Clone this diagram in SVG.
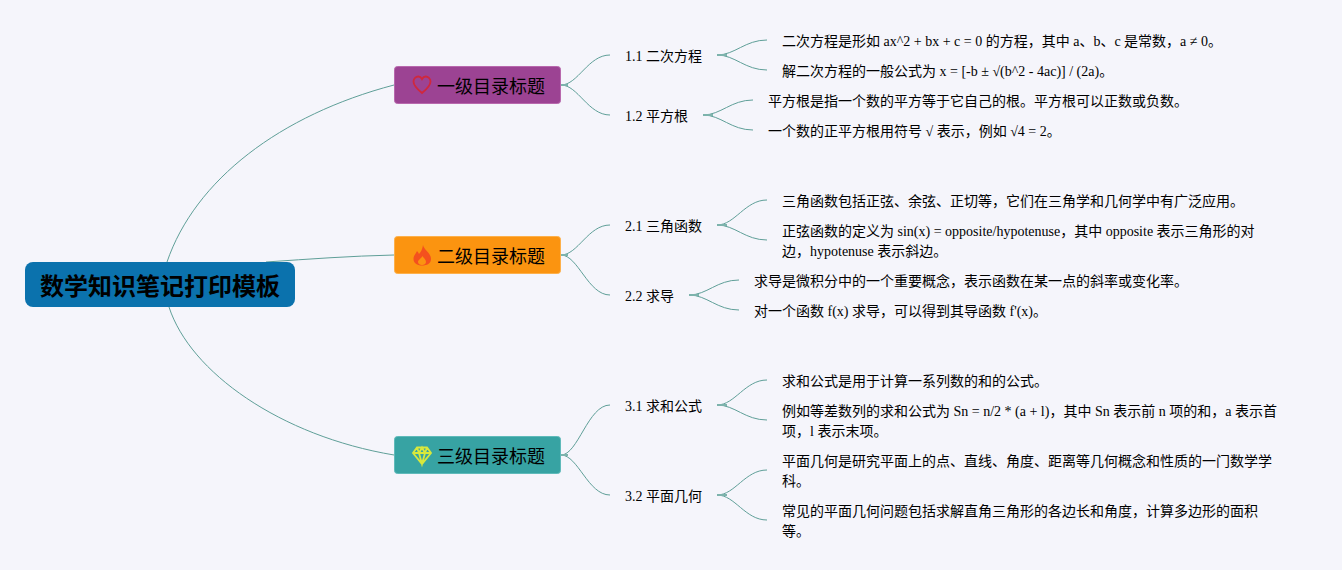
<svg xmlns="http://www.w3.org/2000/svg" width="1342" height="570" viewBox="0 0 1342 570">
<style>
text{font-family:"Liberation Serif","Noto Sans CJK SC",serif;fill:#000}
.t{font-size:14px}
.b{font-size:18px;font-family:"Liberation Sans","Noto Sans CJK SC",sans-serif}
.r{font-size:24px;font-weight:700;font-family:"Liberation Sans","Noto Sans CJK SC",sans-serif}
.c path{fill:none;stroke:#5f9f98;stroke-width:1}
.c .s{stroke:#7db3ac;stroke-width:2}
</style>
<rect width="1342" height="570" fill="#f5f5fb"/>
<g id="connectors" class="c">
<path d="M167 262C195 180 280 115 394 85"/>
<path d="M266 262C310 259 350 256 394 255"/>
<path d="M169 307C190 372 280 436 394 455"/>
<path d="M561 85C578 85 588 55 610 55"/>
<path d="M561 85C578 85 588 115 610 115"/>
<path d="M561 255C578 255 588 225 610 225"/>
<path d="M561 255C578 255 588 295 610 295"/>
<path d="M561 455C578 455 588 405 610 405"/>
<path d="M561 455C578 455 588 495 610 495"/>
<path d="M717 55C735 55 745 40 767 40"/>
<path d="M717 55C735 55 745 70 767 70"/>
<path d="M703 115C721 115 731 100 753 100"/>
<path d="M703 115C721 115 731 130 753 130"/>
<path d="M717 225C735 225 745 200 767 200"/>
<path d="M717 225C735 225 745 240 767 240"/>
<path d="M689 295C707 295 717 280 739 280"/>
<path d="M689 295C707 295 717 310 739 310"/>
<path d="M717 405C735 405 745 380 767 380"/>
<path d="M717 405C735 405 745 420 767 420"/>
<path d="M717 495C735 495 745 470 767 470"/>
<path d="M717 495C735 495 745 520 767 520"/>
<path class="s" d="M561 85h7M561 255h7M561 455h7M717 55h10M703 115h10M717 225h10M689 295h10M717 405h10M717 495h10"/>
</g>
<g id="root"><rect x="25" y="262" width="270" height="45" rx="8" fill="#0b72ad"/><text class="r" x="160" y="295" text-anchor="middle">数学知识笔记打印模板</text></g>
<g id="n1"><rect x="394.500" y="66.500" width="166" height="37" rx="3" fill="#9c4393" stroke="#b868ad"/>
<path d="M422 93C417 89 413.500 85.500 413.500 81.500C413.500 78.500 416 76.500 418.300 76.500C420 76.500 421.200 77.500 422 79C422.800 77.500 424 76.500 425.700 76.500C428 76.500 430.500 78.500 430.500 81.500C430.500 85.500 427 89 422 93Z" fill="none" stroke="#d0283c" stroke-width="1.800"/>
<text class="b" x="437" y="93">一级目录标题</text></g>
<g id="n2"><rect x="394.500" y="236.500" width="166" height="37" rx="3" fill="#fb9410" stroke="#fdb04a"/>
<path d="M423 245C424 250 431 253 431 259C431 263.500 427 265.500 422 265.500C417 265.500 413.500 263 413.500 259C413.500 255.500 416 253.500 417 251C418 252 418.700 253 419 254C421 252 422.500 249 423 245Z" fill="#f4511e"/>
<path d="M422.500 256C423.500 258 426 259.500 426 262C426 264 424 265 422 265C420 265 418 264 418 262C418 260 421 258.500 422.500 256Z" fill="#fb9410"/>
<text class="b" x="437" y="263">二级目录标题</text></g>
<g id="n3"><rect x="394.500" y="436.500" width="166" height="37" rx="3" fill="#37a3a3" stroke="#5fbaba"/>
<path d="M417 447.500H427L431 453L422 464L413 453Z M413 453H431 M417 447.500L419 453L422 464L425 453L427 447.500 M419 453L422 447.500L425 453" fill="none" stroke="#d8e83c" stroke-width="1.800"/>
<text class="b" x="437" y="463">三级目录标题</text></g>
<g id="n11"><text class="t" x="625" y="61">1.1 二次方程</text></g>
<g id="n12"><text class="t" x="625" y="121">1.2 平方根</text></g>
<g id="n21"><text class="t" x="625" y="231">2.1 三角函数</text></g>
<g id="n22"><text class="t" x="625" y="301">2.2 求导</text></g>
<g id="n31"><text class="t" x="625" y="411">3.1 求和公式</text></g>
<g id="n32"><text class="t" x="625" y="501">3.2 平面几何</text></g>
<g id="l111"><text class="t" x="782" y="46">二次方程是形如 ax^2 + bx + c = 0 的方程，其中 a、b、c 是常数，a ≠ 0。</text></g>
<g id="l112"><text class="t" x="782" y="76">解二次方程的一般公式为 x = [-b ± √(b^2 - 4ac)] / (2a)。</text></g>
<g id="l121"><text class="t" x="768" y="106">平方根是指一个数的平方等于它自己的根。平方根可以正数或负数。</text></g>
<g id="l122"><text class="t" x="768" y="136">一个数的正平方根用符号 √ 表示，例如 √4 = 2。</text></g>
<g id="l211"><text class="t" x="782" y="206">三角函数包括正弦、余弦、正切等，它们在三角学和几何学中有广泛应用。</text></g>
<g id="l212"><text class="t" x="782" y="236">正弦函数的定义为 sin(x) = opposite/hypotenuse，其中 opposite 表示三角形的对</text><text class="t" x="782" y="256">边，hypotenuse 表示斜边。</text></g>
<g id="l221"><text class="t" x="754" y="286">求导是微积分中的一个重要概念，表示函数在某一点的斜率或变化率。</text></g>
<g id="l222"><text class="t" x="754" y="316">对一个函数 f(x) 求导，可以得到其导函数 f'(x)。</text></g>
<g id="l311"><text class="t" x="782" y="386">求和公式是用于计算一系列数的和的公式。</text></g>
<g id="l312"><text class="t" x="782" y="416">例如等差数列的求和公式为 Sn = n/2 * (a + l)，其中 Sn 表示前 n 项的和，a 表示首</text><text class="t" x="782" y="436">项，l 表示末项。</text></g>
<g id="l321"><text class="t" x="782" y="466">平面几何是研究平面上的点、直线、角度、距离等几何概念和性质的一门数学学</text><text class="t" x="782" y="486">科。</text></g>
<g id="l322"><text class="t" x="782" y="516">常见的平面几何问题包括求解直角三角形的各边长和角度，计算多边形的面积</text><text class="t" x="782" y="536">等。</text></g>
</svg>
